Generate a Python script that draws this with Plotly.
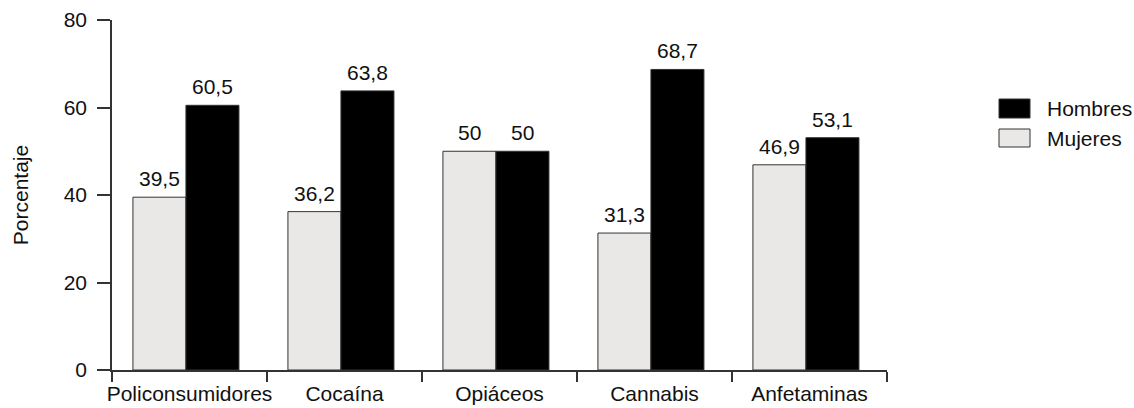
import plotly.graph_objects as go

# Data: percentage of users by sex for each substance group
categories = ["Policonsumidores", "Cocaína", "Opiáceos", "Cannabis", "Anfetaminas"]
mujeres = [39.5, 36.2, 50, 31.3, 46.9]
hombres = [60.5, 63.8, 50, 68.7, 53.1]
series_names = ["Hombres", "Mujeres"]
y_ticks = [0, 20, 40, 60, 80]

FONT = "Liberation Sans, Arial, Helvetica, sans-serif"
FS = 21
TXT = "#111111"
LIGHT = "#e9e8e6"
DARK = "#000000"
EDGE = "#333333"

# Bar geometry in category units (one category = 1.0)
BAR_W = 0.342
OFF_M = -0.365
OFF_H = OFF_M + BAR_W


def fmt(v):
    return f"{v:g}".replace(".", ",")


fig = go.Figure()
fig.add_trace(go.Bar(
    name=series_names[1], x=categories, y=mujeres,
    width=BAR_W, offset=OFF_M,
    marker=dict(color=LIGHT, line=dict(color=EDGE, width=1)),
    showlegend=False,
))
fig.add_trace(go.Bar(
    name=series_names[0], x=categories, y=hombres,
    width=BAR_W, offset=OFF_H,
    marker=dict(color=DARK, line=dict(color=EDGE, width=1)),
    showlegend=False,
))

# Value labels above each bar
annotations = []
for i, (m, h) in enumerate(zip(mujeres, hombres)):
    for val, off in ((m, OFF_M), (h, OFF_H)):
        annotations.append(dict(
            x=i + off + BAR_W / 2, y=val, xref="x", yref="y", text=fmt(val),
            showarrow=False, yshift=5, yanchor="bottom",
            font=dict(family=FONT, size=FS, color=TXT),
        ))

# Custom legend with wide swatches
W, L, T, B = 1134, 112, 20, 38
plot_w = W - L - 247
plot_h = 408 - T - B


def px_x(p):
    return (p - L) / plot_w


def px_y(p):
    return (408 - B - p) / plot_h


shapes = []
legend_items = [(series_names[0], DARK, 99, 118), (series_names[1], LIGHT, 129, 147)]
for name, col, y0, y1 in legend_items:
    shapes.append(dict(
        type="rect", xref="paper", yref="paper",
        x0=px_x(999), x1=px_x(1030), y0=px_y(y1), y1=px_y(y0),
        fillcolor=col, line=dict(color=EDGE, width=1),
    ))
    annotations.append(dict(
        x=px_x(1045), y=px_y((y0 + y1) / 2), xref="paper", yref="paper",
        text=name, showarrow=False, xanchor="left", yanchor="middle",
        font=dict(family=FONT, size=FS, color=TXT),
    ))

fig.update_layout(
    width=W, height=408,
    margin=dict(l=L, r=247, t=T, b=B, pad=0),
    paper_bgcolor="white", plot_bgcolor="white",
    font=dict(family=FONT, size=FS, color=TXT),
    annotations=annotations, shapes=shapes,
    xaxis=dict(
        range=[-0.5, len(categories) - 0.5],
        showline=True, linecolor=EDGE, linewidth=1.5,
        ticks="outside", tickson="boundaries", ticklen=10,
        tickcolor=EDGE, tickwidth=1.5, showgrid=False,
        tickangle=0, automargin=False, ticklabelstandoff=4,
        tickfont=dict(family=FONT, size=FS, color=TXT),
    ),
    yaxis=dict(
        range=[0, 80], tickvals=y_ticks, showline=True, linecolor=EDGE,
        linewidth=1.5, ticks="outside", ticklen=13, tickcolor=EDGE,
        tickwidth=1.5, showgrid=False, zeroline=False,
        ticklabelstandoff=6, automargin=False,
        tickfont=dict(family=FONT, size=FS, color=TXT),
        title=dict(text="Porcentaje", standoff=29,
                   font=dict(family=FONT, size=FS, color=TXT)),
    ),
)

fig.write_html("out.html")
